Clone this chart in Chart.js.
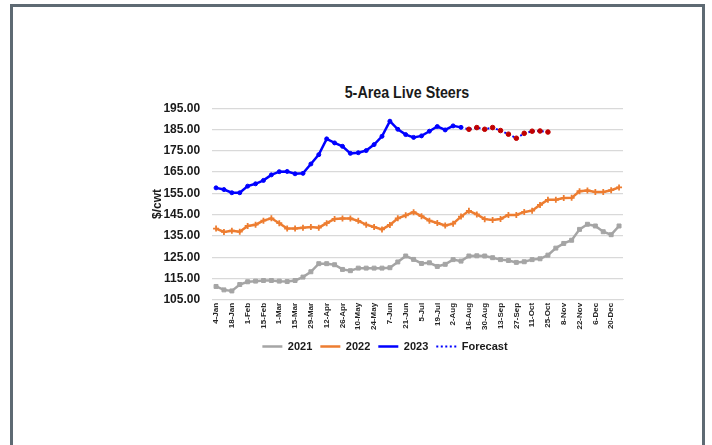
<!DOCTYPE html>
<html>
<head>
<meta charset="utf-8">
<script src="https://cdn.jsdelivr.net/npm/chart.js@4"></script>
<style>
    body { margin: 0; background: #fff; }
    #frame {
        position: absolute; left: 10px; top: 4px; width: 695px; height: 460px;
        border: 3px solid #5e6a73; box-sizing: border-box;
    }
    #title {
        position: absolute; left: 407px; top: 82px;
        transform: translateX(-50%) scaleX(0.84);
        font: bold 17px 'Liberation Sans', Arial, sans-serif; line-height: 22px;
        color: #1a1a1a; white-space: nowrap;
    }
    #wrap { position: absolute; left: 147px; top: 89px; width: 496px; height: 273px; }
</style>
</head>
<body>
<div id="frame"></div>
<div id="title">5-Area Live Steers</div>
<div id="wrap"><canvas id="steersChart"></canvas></div>
<script>
// Week-ending dates (every other one is shown on the axis)
const weeks = ['4-Jan', '11-Jan', '18-Jan', '25-Jan', '1-Feb', '8-Feb', '15-Feb', '22-Feb',
    '1-Mar', '8-Mar', '15-Mar', '22-Mar', '29-Mar', '5-Apr', '12-Apr', '19-Apr', '26-Apr',
    '3-May', '10-May', '17-May', '24-May', '31-May', '7-Jun', '14-Jun', '21-Jun', '28-Jun',
    '5-Jul', '12-Jul', '19-Jul', '26-Jul', '2-Aug', '9-Aug', '16-Aug', '23-Aug', '30-Aug',
    '6-Sep', '13-Sep', '20-Sep', '27-Sep', '4-Oct', '11-Oct', '18-Oct', '25-Oct', '1-Nov',
    '8-Nov', '15-Nov', '22-Nov', '29-Nov', '6-Dec', '13-Dec', '20-Dec', '27-Dec'];

const prices2021 = [111.3, 109.7, 109.2, 112.2, 113.5, 113.8, 114.1, 114.1, 113.8, 113.6,
    114.1, 115.7, 118.2, 122.0, 122.0, 121.5, 119.3, 118.7, 119.9, 119.9,
    119.9, 119.9, 120.1, 122.8, 125.6, 124.0, 122.1, 122.4, 120.7, 121.7,
    123.9, 123.2, 125.6, 125.7, 125.6, 124.8, 123.9, 123.5, 122.6, 122.9,
    123.9, 124.3, 126.0, 129.3, 131.5, 133.0, 138.1, 140.5, 139.7, 137.0,
    135.6, 139.7];

const prices2022 = [138.5, 136.9, 137.5, 137.0, 139.7, 140.3, 142.2, 143.3, 141.0, 138.5,
    138.5, 138.9, 139.2, 138.9, 141.0, 143.0, 143.2, 143.2, 142.1, 140.3,
    139.2, 138.1, 140.2, 143.3, 144.7, 146.2, 144.3, 142.2, 141.1, 139.9,
    140.8, 144.1, 146.8, 145.1, 142.9, 142.5, 143.0, 144.9, 144.9, 146.3,
    146.9, 149.6, 152.0, 152.0, 152.8, 152.9, 156.0, 156.4, 155.7, 155.7,
    156.5, 157.8];

const prices2023 = [157.6, 156.8, 155.3, 155.3, 158.4, 159.5, 161.1, 163.7, 165.2, 165.3,
    164.2, 164.4, 168.8, 173.2, 180.6, 178.7, 177.1, 173.8, 174.1, 175.1,
    177.9, 181.8, 188.9, 185.1, 182.6, 181.3, 182.0, 184.2, 186.4, 184.8,
    186.7, 186.0];

// Forecast from 16-Aug to 25-Oct
const forecast = [185.1, 185.9, 185.1, 185.9, 184.5, 182.8, 180.9, 183.2, 184.2, 184.3, 183.8];

// forecast line starts at the last actual 2023 week
const lastIdx = prices2023.length - 1;
const forecastData = weeks.map((w, i) => {
    if (i === lastIdx) return prices2023[lastIdx];
    if (i > lastIdx && i - lastIdx - 1 < forecast.length) return forecast[i - lastIdx - 1];
    return null;
});

const fontFamily = "'Liberation Sans', Arial, sans-serif";

const ctx = document.getElementById('steersChart').getContext('2d');
new Chart(ctx, {
    type: 'line',
    data: {
        labels: weeks,
        datasets: [
            {
                label: '2021',
                data: prices2021,
                borderColor: '#a5a5a5',
                backgroundColor: '#a5a5a5',
                borderWidth: 2.5,
                pointStyle: 'rect',
                pointRadius: 2.8,
                pointBorderWidth: 1,
                tension: 0
            },
            {
                label: '2022',
                data: prices2022,
                borderColor: '#ed7d31',
                backgroundColor: '#ed7d31',
                borderWidth: 2.5,
                pointStyle: 'cross',
                pointRadius: 3,
                pointBorderWidth: 1.8,
                tension: 0
            },
            {
                label: '2023',
                data: prices2023,
                borderColor: '#0000ff',
                backgroundColor: '#0000ff',
                borderWidth: 2.5,
                pointStyle: 'circle',
                pointRadius: 2,
                pointBorderWidth: 1,
                tension: 0
            },
            {
                label: 'Forecast',
                data: forecastData,
                borderColor: '#0000ff',
                backgroundColor: '#c00000',
                borderWidth: 2,
                borderDash: [2, 2.5],
                pointStyle: 'circle',
                pointRadius: forecastData.map((v, i) => i === lastIdx ? 0 : 2.3),
                pointBorderWidth: 1,
                pointBorderColor: '#c00000',
                tension: 0
            }
        ]
    },
    options: {
        responsive: true,
        maintainAspectRatio: false,
        animation: false,
        layout: { padding: { right: 20, left: 0, top: 0, bottom: 0 } },
        plugins: {
            legend: {
                position: 'bottom',
                labels: {
                    color: '#1a1a1a',
                    font: { family: fontFamily, size: 11, weight: 'bold' },
                    usePointStyle: true,
                    pointStyleWidth: 20,
                    boxHeight: 6,
                    padding: 8,
                    generateLabels: function(chart) {
                        const items = Chart.defaults.plugins.legend.labels.generateLabels(chart);
                        return items.map(item => {
                            const ds = chart.data.datasets[item.datasetIndex];
                            return Object.assign(item, {
                                pointStyle: 'line',
                                strokeStyle: ds.borderColor,
                                lineWidth: ds.borderWidth,
                                lineDash: ds.borderDash || []
                            });
                        });
                    }
                }
            },
            tooltip: { enabled: false }
        },
        scales: {
            x: {
                offset: true,
                grid: { display: false, drawTicks: false },
                border: { color: '#d9d9d9' },
                ticks: {
                    autoSkip: false,
                    maxRotation: 90,
                    minRotation: 90,
                    padding: 3,
                    color: '#262626',
                    font: { family: fontFamily, size: 8, weight: 'bold' },
                    callback: function(value, index) {
                        return index % 2 === 0 ? this.getLabelForValue(value) : '';
                    }
                }
            },
            y: {
                min: 105,
                max: 195,
                grid: { color: '#d9d9d9', lineWidth: 1.3, drawTicks: false },
                border: { display: false },
                title: {
                    display: true,
                    text: '$/cwt',
                    color: '#1a1a1a',
                    font: { family: fontFamily, size: 12, weight: 'bold' },
                    padding: { top: 3, bottom: -13 }
                },
                ticks: {
                    stepSize: 10,
                    padding: 12,
                    color: '#1a1a1a',
                    font: { family: fontFamily, size: 12, weight: 'bold' },
                    callback: value => value.toFixed(2)
                }
            }
        }
    }
});
</script>
</body>
</html>
